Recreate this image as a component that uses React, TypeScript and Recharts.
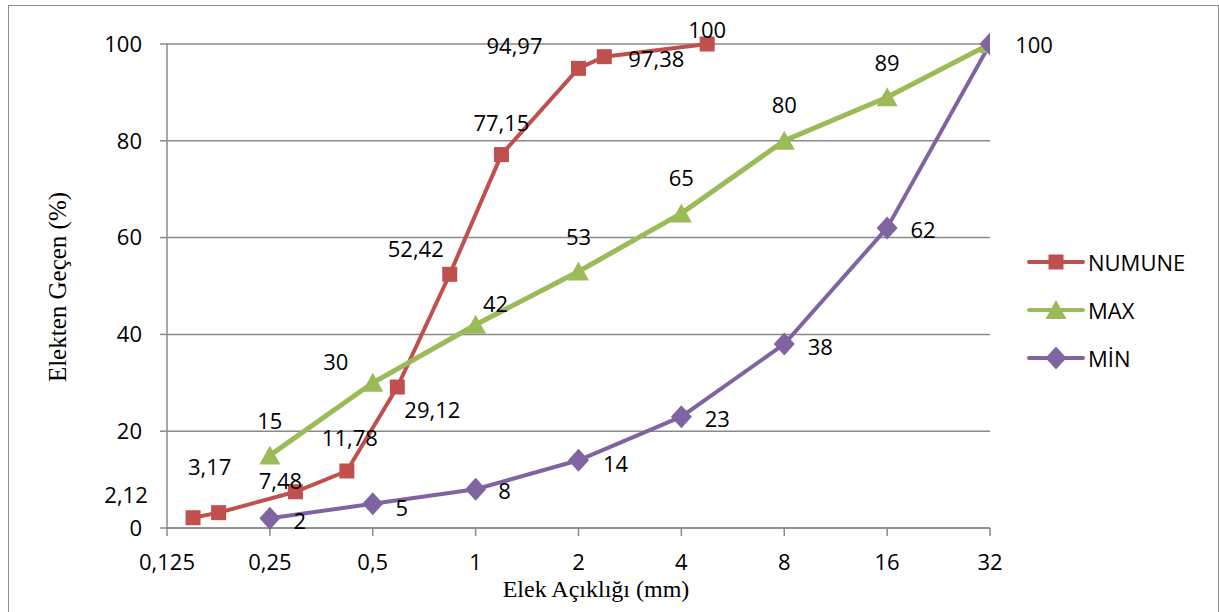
import React from "react";
import { LineChart, Line, XAxis, YAxis, CartesianGrid, LabelList, Label } from "recharts";

// elek açıklıkları (mm) ve geçen yüzdeler
const sieveNumune = [0.149, 0.177, 0.297, 0.42, 0.59, 0.84, 1.19, 2, 2.38, 4.76];
const passNumune = [2.12, 3.17, 7.48, 11.78, 29.12, 52.42, 77.15, 94.97, 97.38, 100];
const sieveLimits = [0.25, 0.5, 1, 2, 4, 8, 16, 32];
const passMax = [15, 30, 42, 53, 65, 80, 89, 100];
const passMin = [2, 5, 8, 14, 23, 38, 62, 100];

const xTicks = [0.125, 0.25, 0.5, 1, 2, 4, 8, 16, 32];
const yTicks = [0, 20, 40, 60, 80, 100];
const seriesNames = ["NUMUNE", "MAX", "MİN"];

const RED = "#C0504D";
const GREEN = "#9BBB59";
const PURPLE = "#8064A2";
const GRID = "#8a8a8a";
const SANS = "'Open Sans', sans-serif";
const SERIF = "'Liberation Serif', 'Times New Roman', serif";

// label offsets (dx, dy) from each point, like the hand-moved Excel labels
const numuneLabelPos: ([number, number] | null)[] = [
  [-67, -24], [-9, -47], [-15, -12], [3, -34], [35, 22],
  [-34, -26], [0, -33], [-64, -23], [52, 1], [0, -15],
];
const maxLabelPos: ([number, number] | null)[] = [
  [0, -35], [-37, -22], [20, -22], [0, -35], [0, -36], [0, -37], [0, -35], null,
];
const minLabelPos: ([number, number] | null)[] = [
  [30, 2], [29, 3], [29, 1], [37, 3], [36, 1], [36, 2], [36, 1], [44, 0],
];

const numuneData = sieveNumune.map((x, i) => ({ x, y: passNumune[i] }));
const maxData = sieveLimits.map((x, i) => ({ x, y: passMax[i] }));
const minData = sieveLimits.map((x, i) => ({ x, y: passMin[i] }));

const fmt = (v: number) => String(v).replace(".", ",");

function labelRenderer(offsets: ([number, number] | null)[]) {
  return (p: any) => {
    const o = offsets[p.index];
    if (!o) return null;
    const x = p.viewBox?.x ?? p.x;
    const y = p.viewBox?.y ?? p.y;
    return (
      <text
        x={x + o[0]}
        y={y + o[1]}
        textAnchor="middle"
        dominantBaseline="central"
        fontFamily={SANS}
        fontSize={22}
        fill="#000"
      >
        {fmt(Number(p.value))}
      </text>
    );
  };
}

const square = (cx: number, cy: number, key?: any) => (
  <rect key={key} x={cx - 7.5} y={cy - 7.5} width={15} height={15} fill={RED} />
);
const triangle = (cx: number, cy: number, key?: any) => (
  <polygon key={key} points={`${cx},${cy - 10} ${cx + 10.5},${cy + 9} ${cx - 10.5},${cy + 9}`} fill={GREEN} />
);
const diamond = (cx: number, cy: number, key?: any) => (
  <polygon key={key} points={`${cx},${cy - 11.5} ${cx + 10.5},${cy} ${cx},${cy + 11.5} ${cx - 10.5},${cy}`} fill={PURPLE} />
);

function LegendRow({ name, color, marker, top }: { name: string; color: string; marker: (x: number, y: number) => React.ReactNode; top: number }) {
  return (
    <div style={{ position: "absolute", left: 1026, top: top - 12, height: 24, display: "flex", alignItems: "center" }}>
      <svg width={60} height={24}>
        <line x1={3} y1={12} x2={57} y2={12} stroke={color} strokeWidth={4} strokeLinecap="round" />
        {marker(30, 12)}
      </svg>
      <span style={{ fontFamily: SANS, fontSize: 22, color: "#000", marginLeft: 2, lineHeight: "24px" }}>{name}</span>
    </div>
  );
}

export default function App() {
  return (
    <div style={{ position: "absolute", left: 0, top: 0, width: 1219, height: 612, background: "#fff", overflow: "hidden" }}>
      <div style={{ position: "absolute", left: 8, top: 5, width: 1209, height: 620, border: "1.5px solid #8c8c8c" }} />
      <LineChart width={1219} height={612} margin={{ top: 44, right: 229, bottom: 0, left: 67 }}>
        <CartesianGrid horizontal vertical={false} stroke={GRID} strokeWidth={1.5} />
        <XAxis
          type="number"
          dataKey="x"
          scale="log"
          domain={[0.125, 32]}
          ticks={xTicks}
          allowDataOverflow
          height={84}
          tickSize={8}
          tickMargin={18}
          tickFormatter={fmt}
          tick={{ fontFamily: SANS, fontSize: 22, fill: "#000" }}
          axisLine={{ stroke: GRID, strokeWidth: 1.5 }}
          tickLine={{ stroke: GRID, strokeWidth: 1.5 }}
        >
          <Label
            content={() => (
              <text x={596} y={589} textAnchor="middle" dominantBaseline="central" fontFamily={SERIF} fontSize={24} fill="#000">
                Elek Açıklığı (mm)
              </text>
            )}
          />
        </XAxis>
        <YAxis
          type="number"
          domain={[0, 100]}
          ticks={yTicks}
          width={100}
          tickSize={7}
          tickMargin={18}
          tick={{ fontFamily: SANS, fontSize: 22, fill: "#000" }}
          axisLine={{ stroke: GRID, strokeWidth: 1.5 }}
          tickLine={{ stroke: GRID, strokeWidth: 1.5 }}
        >
          <Label
            content={() => (
              <text
                x={57}
                y={287}
                transform="rotate(-90 57 287)"
                textAnchor="middle"
                dominantBaseline="central"
                fontFamily={SERIF}
                fontSize={25}
                fill="#000"
              >
                Elekten Geçen (%)
              </text>
            )}
          />
        </YAxis>
        <Line
          data={numuneData}
          dataKey="y"
          name={seriesNames[0]}
          stroke={RED}
          strokeWidth={4}
          isAnimationActive={false}
          dot={(p: any) => square(p.cx, p.cy, `n${p.index}`)}
          activeDot={false}
        >
          <LabelList dataKey="y" content={labelRenderer(numuneLabelPos)} />
        </Line>
        <Line
          data={maxData}
          dataKey="y"
          name={seriesNames[1]}
          stroke={GREEN}
          strokeWidth={5}
          isAnimationActive={false}
          dot={(p: any) => triangle(p.cx, p.cy, `a${p.index}`)}
          activeDot={false}
        >
          <LabelList dataKey="y" content={labelRenderer(maxLabelPos)} />
        </Line>
        <Line
          data={minData}
          dataKey="y"
          name={seriesNames[2]}
          stroke={PURPLE}
          strokeWidth={4}
          isAnimationActive={false}
          dot={(p: any) => diamond(p.cx, p.cy, `m${p.index}`)}
          activeDot={false}
        >
          <LabelList dataKey="y" content={labelRenderer(minLabelPos)} />
        </Line>
      </LineChart>
      <LegendRow name={seriesNames[0]} color={RED} marker={square} top={262} />
      <LegendRow name={seriesNames[1]} color={GREEN} marker={triangle} top={310} />
      <LegendRow name={seriesNames[2]} color={PURPLE} marker={diamond} top={358} />
    </div>
  );
}
